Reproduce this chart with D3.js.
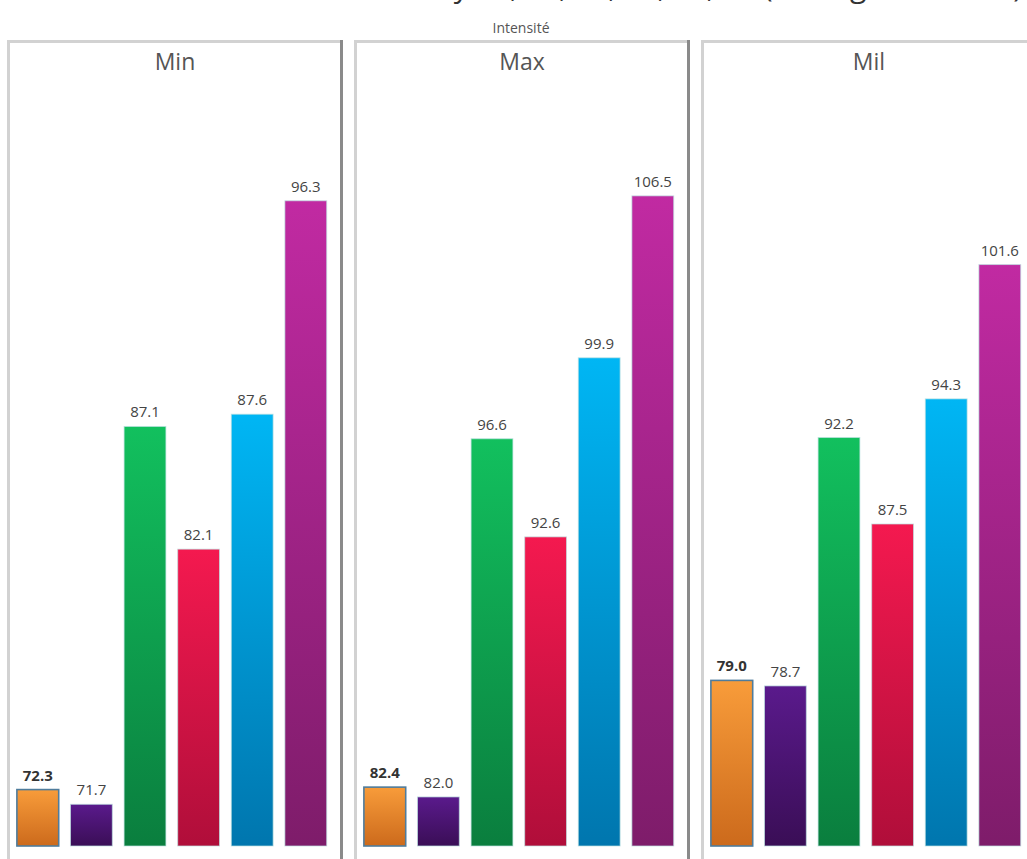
<!DOCTYPE html>
<html>
<head>
<meta charset="utf-8">
<script src="https://cdn.jsdelivr.net/npm/d3@7"></script>
<style>
  body { margin: 0; background: #fff; overflow: hidden; }
  #canvas { width: 1027px; height: 859px; }
  text { font-family: "Open Sans", "Noto Sans", sans-serif; }
</style>
</head>
<body>
<div id="canvas"></div>
<script>
const canvas = document.getElementById('canvas');
const w = 1027, h = 859;

// data
const panels = ["Min", "Max", "Mil"];
const categories = ["S1", "S2", "S3", "S4", "S5", "S6"];
const minValues = [72.3, 71.7, 87.1, 82.1, 87.6, 96.3];
const maxValues = [82.4, 82.0, 96.6, 92.6, 99.9, 106.5];
const milValues = [79.0, 78.7, 92.2, 87.5, 94.3, 101.6];
const yDomains = [[70, 100], [80, 110], [70, 110]];
const topColors = ["#f89c3a", "#5a1a8c", "#12c05e", "#f4194f", "#00b6f4", "#c12aa2"];
const bottomColors = ["#cc6a1c", "#3a0e56", "#0a7e3e", "#b00e3a", "#0076ae", "#7e1c6a"];

const values = [minValues, maxValues, milValues];

let svg = d3.select("#canvas")
            .append("svg")
                .attr("width", w)
                .attr("height", h)
                .attr("viewBox", [0, 0, w, h]);

let defs = svg.append("defs");
categories.forEach((c, i) => {
    let g = defs.append("linearGradient")
        .attr("id", "grad" + i)
        .attr("x1", 0).attr("y1", 0).attr("x2", 0).attr("y2", 1);
    g.append("stop").attr("offset", "0%").attr("stop-color", topColors[i]);
    g.append("stop").attr("offset", "100%").attr("stop-color", bottomColors[i]);
});

// title, mostly above the top edge like in the source (only descenders show)
svg.append("text")
    .attr("x", 1022)
    .attr("y", -3)
    .attr("text-anchor", "end")
    .attr("font-size", 30)
    .attr("fill", "#333")
    .text("Intensité by " + categories.join(", ") + " (average Intensité)");

svg.append("text")
    .attr("x", 521)
    .attr("y", 33)
    .attr("text-anchor", "middle")
    .attr("font-size", 14)
    .attr("fill", "#555")
    .text("Intensité");

const panelX = d3.scaleBand()
    .domain(panels)
    .range([7, 7 + 347 * 3])
    .paddingInner(0);

const panelW = 336;
const y0 = 846, y1 = 110;

panels.forEach((p, pi) => {
    const px = panelX(p);
    let g = svg.append("g").attr("transform", "translate(" + px + ",0)");

    g.append("rect")
        .attr("x", 1.5).attr("y", 41.5)
        .attr("width", panelW - 3).attr("height", 900)
        .attr("fill", "#fff")
        .attr("stroke", "#d2d2d2")
        .attr("stroke-width", 3);
    g.append("line")
        .attr("x1", panelW - 1.5).attr("x2", panelW - 1.5)
        .attr("y1", 40).attr("y2", h + 5)
        .attr("stroke", "#8a8a8a")
        .attr("stroke-width", 3);

    g.append("text")
        .attr("x", panelW / 2)
        .attr("y", 70)
        .attr("text-anchor", "middle")
        .attr("font-size", 23)
        .attr("fill", "#555")
        .text(p);

    let x = d3.scaleBand()
        .domain(categories)
        .range([4, 4 + 53.6 * 6])
        .paddingInner(0.22)
        .paddingOuter(0.11);
    let y = d3.scaleLinear()
        .domain(yDomains[pi])
        .range([y0, y1]);

    let data = categories.map((c, i) => ({ c: c, i: i, v: values[pi][i] }));

    g.selectAll("rect.bar")
        .data(data)
        .enter().append("rect")
            .attr("class", "bar")
            .attr("x", d => x(d.c))
            .attr("y", d => y(d.v))
            .attr("width", x.bandwidth())
            .attr("height", d => y0 - y(d.v))
            .attr("fill", d => "url(#grad" + d.i + ")")
            .attr("stroke", d => d.i === 0 ? "#4f7c9c" : "rgba(190,225,225,0.7)")
            .attr("stroke-width", d => d.i === 0 ? 1.6 : 1);

    g.selectAll("text.lbl")
        .data(data)
        .enter().append("text")
            .attr("class", "lbl")
            .attr("x", d => x(d.c) + x.bandwidth() / 2)
            .attr("y", d => y(d.v) - 9)
            .attr("text-anchor", "middle")
            .attr("font-size", 15)
            .attr("font-weight", d => d.i === 0 ? "bold" : "normal")
            .attr("fill", d => d.i === 0 ? "#333" : "#444")
            .text(d => d.v.toFixed(1));
});
</script>
</body>
</html>
